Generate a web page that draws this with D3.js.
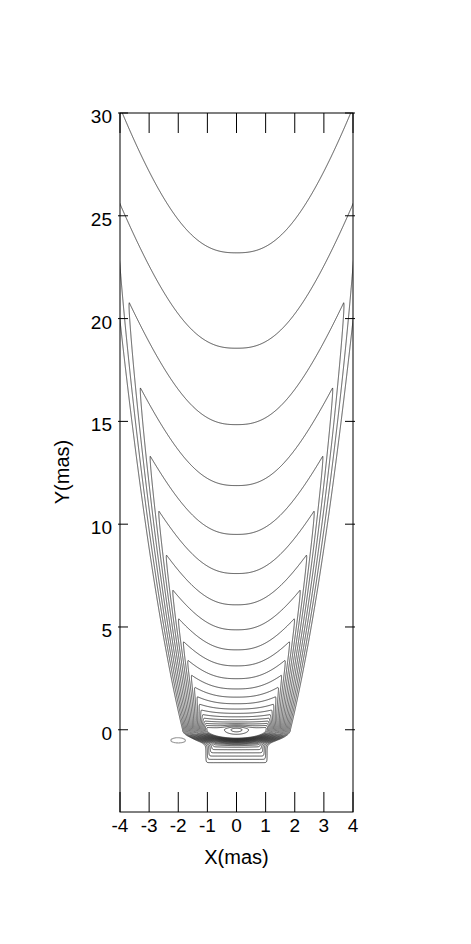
<!DOCTYPE html>
<html>
<head>
<meta charset="utf-8">
<script src="https://cdn.jsdelivr.net/npm/d3@7"></script>
<style>
    body { margin: 0; background: #fff; }
    #chart-area { width: 471px; height: 944px; }
    text { font-family: "Liberation Sans", Arial, Helvetica, sans-serif; fill: #000; }
</style>
</head>
<body>
<div id="chart-area"></div>
<script>

// axis ticks
const xTicks = [-4, -3, -2, -1, 0, 1, 2, 3, 4];
const yTicks = [0, 5, 10, 15, 20, 25, 30];

// contour levels (relative to the lowest one), factor 1.25 apart
const contourLevels = [1, 1.25, 1.563, 1.953, 2.441, 3.052, 3.815, 4.768, 5.96, 7.451,
    9.313, 11.64, 14.55, 18.19, 22.74, 28.42, 35.53, 44.41, 55.51, 69.39, 86.74, 108.4,
    135.5, 169.4];
const negativeLevels = [-1];

// jet model
const axisTopY = 23.2;          // where the lowest level crosses the axis
const coreSize = 0.2;
const ridgeCoef = 0.66, ridgeOffset = 2, ridgePower = 0.55;
const limbBoost = 0.4, limbGrowth = 1.5, limbShape = 2.5;
// outer edge of the lowest level: x^2 = edgeBase + edgeSlope * y
const edgeBase = 3.35, edgeSlope = 0.63, edgeSoft = 0.04;
const cupRatio = 0.4;           // depth / width of the cup under the core
// compact core: [amplitude, rx, ry]
const coreBlob = [70, 0.35, 0.18];
// counter-jet box below the core: [halfWidth, sideStep, bottom, bottomStep, top, maxLevel]
const cjBox = [1.05, 0.05, -1.6, 0.16, 0.2, 6];
// negative blob: [x, y, rx, ry, depth]
const negBlob = [-1.99, -0.51, 0.3, 0.15, 2.2];

class contourChart {

    constructor(parentElement) {
        this.parentElement = parentElement;
        this.initVis();
    }

    initVis() {
        let vis = this;

        vis.margin = {top: 113, right: 118, bottom: 132, left: 120};
        vis.width = 233;
        vis.height = 699;

        vis.svg = d3.select("#" + vis.parentElement).append("svg")
            .attr("width", 471)
            .attr("height", 944)
            .append("g")
            .attr("transform", `translate(${vis.margin.left}, ${vis.margin.top})`);

        vis.x = d3.scaleLinear().domain([-4, 4]).range([0, vis.width]);
        vis.y = d3.scaleLinear().domain([-4, 30]).range([vis.height, 0]);

        vis.svg.append("clipPath").attr("id", "plot-clip")
            .append("rect")
            .attr("width", vis.width)
            .attr("height", vis.height);

        vis.wrangleData();
    }

    jet(ax, yp) {
        const ls = Math.log(1.25);
        const Y = Math.sqrt(yp * yp + coreSize * coreSize);
        const axis = axisTopY / Y;
        const xr = ridgeCoef * Math.pow(yp + ridgeOffset, ridgePower);
        const lb = limbBoost * (1 - Math.exp(-Y / limbGrowth));
        if (ax <= xr) {
            return axis * (1 + lb * Math.pow(ax / xr, limbShape));
        }
        // spread the levels between the ridge and the outer edge
        const ridgeLevel = Math.max(Math.log(axis * (1 + lb)) / ls, 0.5);
        const edge = Math.sqrt(edgeBase + edgeSlope * yp);
        const delta = Math.max(edge - xr - edgeSoft * 0.6, 0.05) / ridgeLevel;
        const d = ax - xr;
        const g = Math.sqrt(d * d + edgeSoft * edgeSoft) - edgeSoft;
        return axis * (1 + lb) * Math.exp(-ls * g / delta);
    }

    intensity(x, y) {
        const ax = Math.abs(x);
        // below the core the jet closes in an elliptical cup
        const jet = y >= 0 ? this.jet(ax, y) : this.jet(Math.sqrt(x * x + (y / cupRatio) * (y / cupRatio)), 0);

        const [ca, crx, cry] = coreBlob;
        const core = ca * Math.exp(-(x / crx) * (x / crx) - (y / cry) * (y / cry));

        // counter-jet: rounded box, in level units
        const [hw, sideStep, bottom, bottomStep, top, maxLevel] = cjBox;
        const a = (hw - ax) / sideStep;
        const b = (y - bottom) / bottomStep;
        const c = (top - y) / 0.1;
        const k = 0.5;
        const m = Math.min(a, b, c);
        const sm = m - k * Math.log(Math.exp(-(a - m) / k) + Math.exp(-(b - m) / k) + Math.exp(-(c - m) / k));
        const cj = Math.pow(1.25, Math.min(sm, maxLevel));

        const [nx, ny, rx, ry, depth] = negBlob;
        const ex = (x - nx) / rx, ey = (y - ny) / ry;
        const neg = depth * Math.exp(-(ex * ex) - (ey * ey));

        return jet + core + cj - neg;
    }

    wrangleData() {
        let vis = this;

        vis.x0 = -4.2; vis.y0 = -4.2;
        vis.dx = 0.02; vis.dy = 0.02;
        vis.nx = Math.round(8.4 / vis.dx) + 1;
        vis.ny = Math.round(34.4 / vis.dy) + 1;

        vis.values = new Float64Array(vis.nx * vis.ny);
        for (let j = 0; j < vis.ny; j++) {
            const yy = vis.y0 + j * vis.dy;
            for (let i = 0; i < vis.nx; i++) {
                vis.values[j * vis.nx + i] = vis.intensity(vis.x0 + i * vis.dx, yy);
            }
        }

        vis.positive = d3.contours()
            .size([vis.nx, vis.ny])
            .thresholds(contourLevels)(vis.values);

        vis.negative = d3.contours()
            .size([vis.nx, vis.ny])
            .thresholds(negativeLevels.map(d => -d))(vis.values.map(v => -v));

        vis.updateVis();
    }

    updateVis() {
        let vis = this;

        const proj = d3.geoTransform({
            point: function(px, py) {
                this.stream.point(
                    vis.x(vis.x0 + (px - 0.5) * vis.dx),
                    vis.y(vis.y0 + (py - 0.5) * vis.dy));
            }
        });
        const path = d3.geoPath(proj);

        const plot = vis.svg.append("g").attr("clip-path", "url(#plot-clip)");

        plot.selectAll(".contour")
            .data(vis.positive)
            .enter().append("path")
            .attr("class", "contour")
            .attr("d", path)
            .attr("fill", "none")
            .attr("stroke", "#222")
            .attr("stroke-width", 0.8);

        plot.selectAll(".neg-contour")
            .data(vis.negative)
            .enter().append("path")
            .attr("class", "neg-contour")
            .attr("d", path)
            .attr("fill", "none")
            .attr("stroke", "#999")
            .attr("stroke-width", 1.1);

        // frame
        vis.svg.append("rect")
            .attr("width", vis.width)
            .attr("height", vis.height)
            .attr("fill", "none")
            .attr("stroke", "#000")
            .attr("stroke-width", 1);

        // x ticks, inward on top and bottom
        vis.svg.selectAll(".xtick-top").data(xTicks).enter().append("line")
            .attr("x1", d => vis.x(d)).attr("x2", d => vis.x(d))
            .attr("y1", 0).attr("y2", 20)
            .attr("stroke", "#000");
        vis.svg.selectAll(".xtick-bottom").data(xTicks).enter().append("line")
            .attr("x1", d => vis.x(d)).attr("x2", d => vis.x(d))
            .attr("y1", vis.height).attr("y2", vis.height - 20)
            .attr("stroke", "#000");

        // y ticks, on both sides
        vis.svg.selectAll(".ytick-left").data(yTicks).enter().append("line")
            .attr("x1", -2).attr("x2", 8)
            .attr("y1", d => vis.y(d)).attr("y2", d => vis.y(d))
            .attr("stroke", "#000");
        vis.svg.selectAll(".ytick-right").data(yTicks).enter().append("line")
            .attr("x1", vis.width + 2).attr("x2", vis.width - 8)
            .attr("y1", d => vis.y(d)).attr("y2", d => vis.y(d))
            .attr("stroke", "#000");

        // tick labels
        vis.svg.selectAll(".xlabel").data(xTicks).enter().append("text")
            .attr("x", d => vis.x(d))
            .attr("y", vis.height + 20)
            .attr("text-anchor", "middle")
            .attr("font-size", 19)
            .text(d => d);

        vis.svg.selectAll(".ylabel").data(yTicks).enter().append("text")
            .attr("x", -8)
            .attr("y", d => vis.y(d) + 10)
            .attr("text-anchor", "end")
            .attr("font-size", 19)
            .text(d => d);

        // axis titles
        vis.svg.append("text")
            .attr("x", vis.width / 2)
            .attr("y", vis.height + 52)
            .attr("text-anchor", "middle")
            .attr("font-size", 20)
            .text("X(mas)");

        vis.svg.append("text")
            .attr("transform", `translate(-51, ${472 - vis.margin.top}) rotate(-90)`)
            .attr("text-anchor", "middle")
            .attr("font-size", 20)
            .text("Y(mas)");
    }
}

new contourChart("chart-area");

</script>
</body>
</html>
